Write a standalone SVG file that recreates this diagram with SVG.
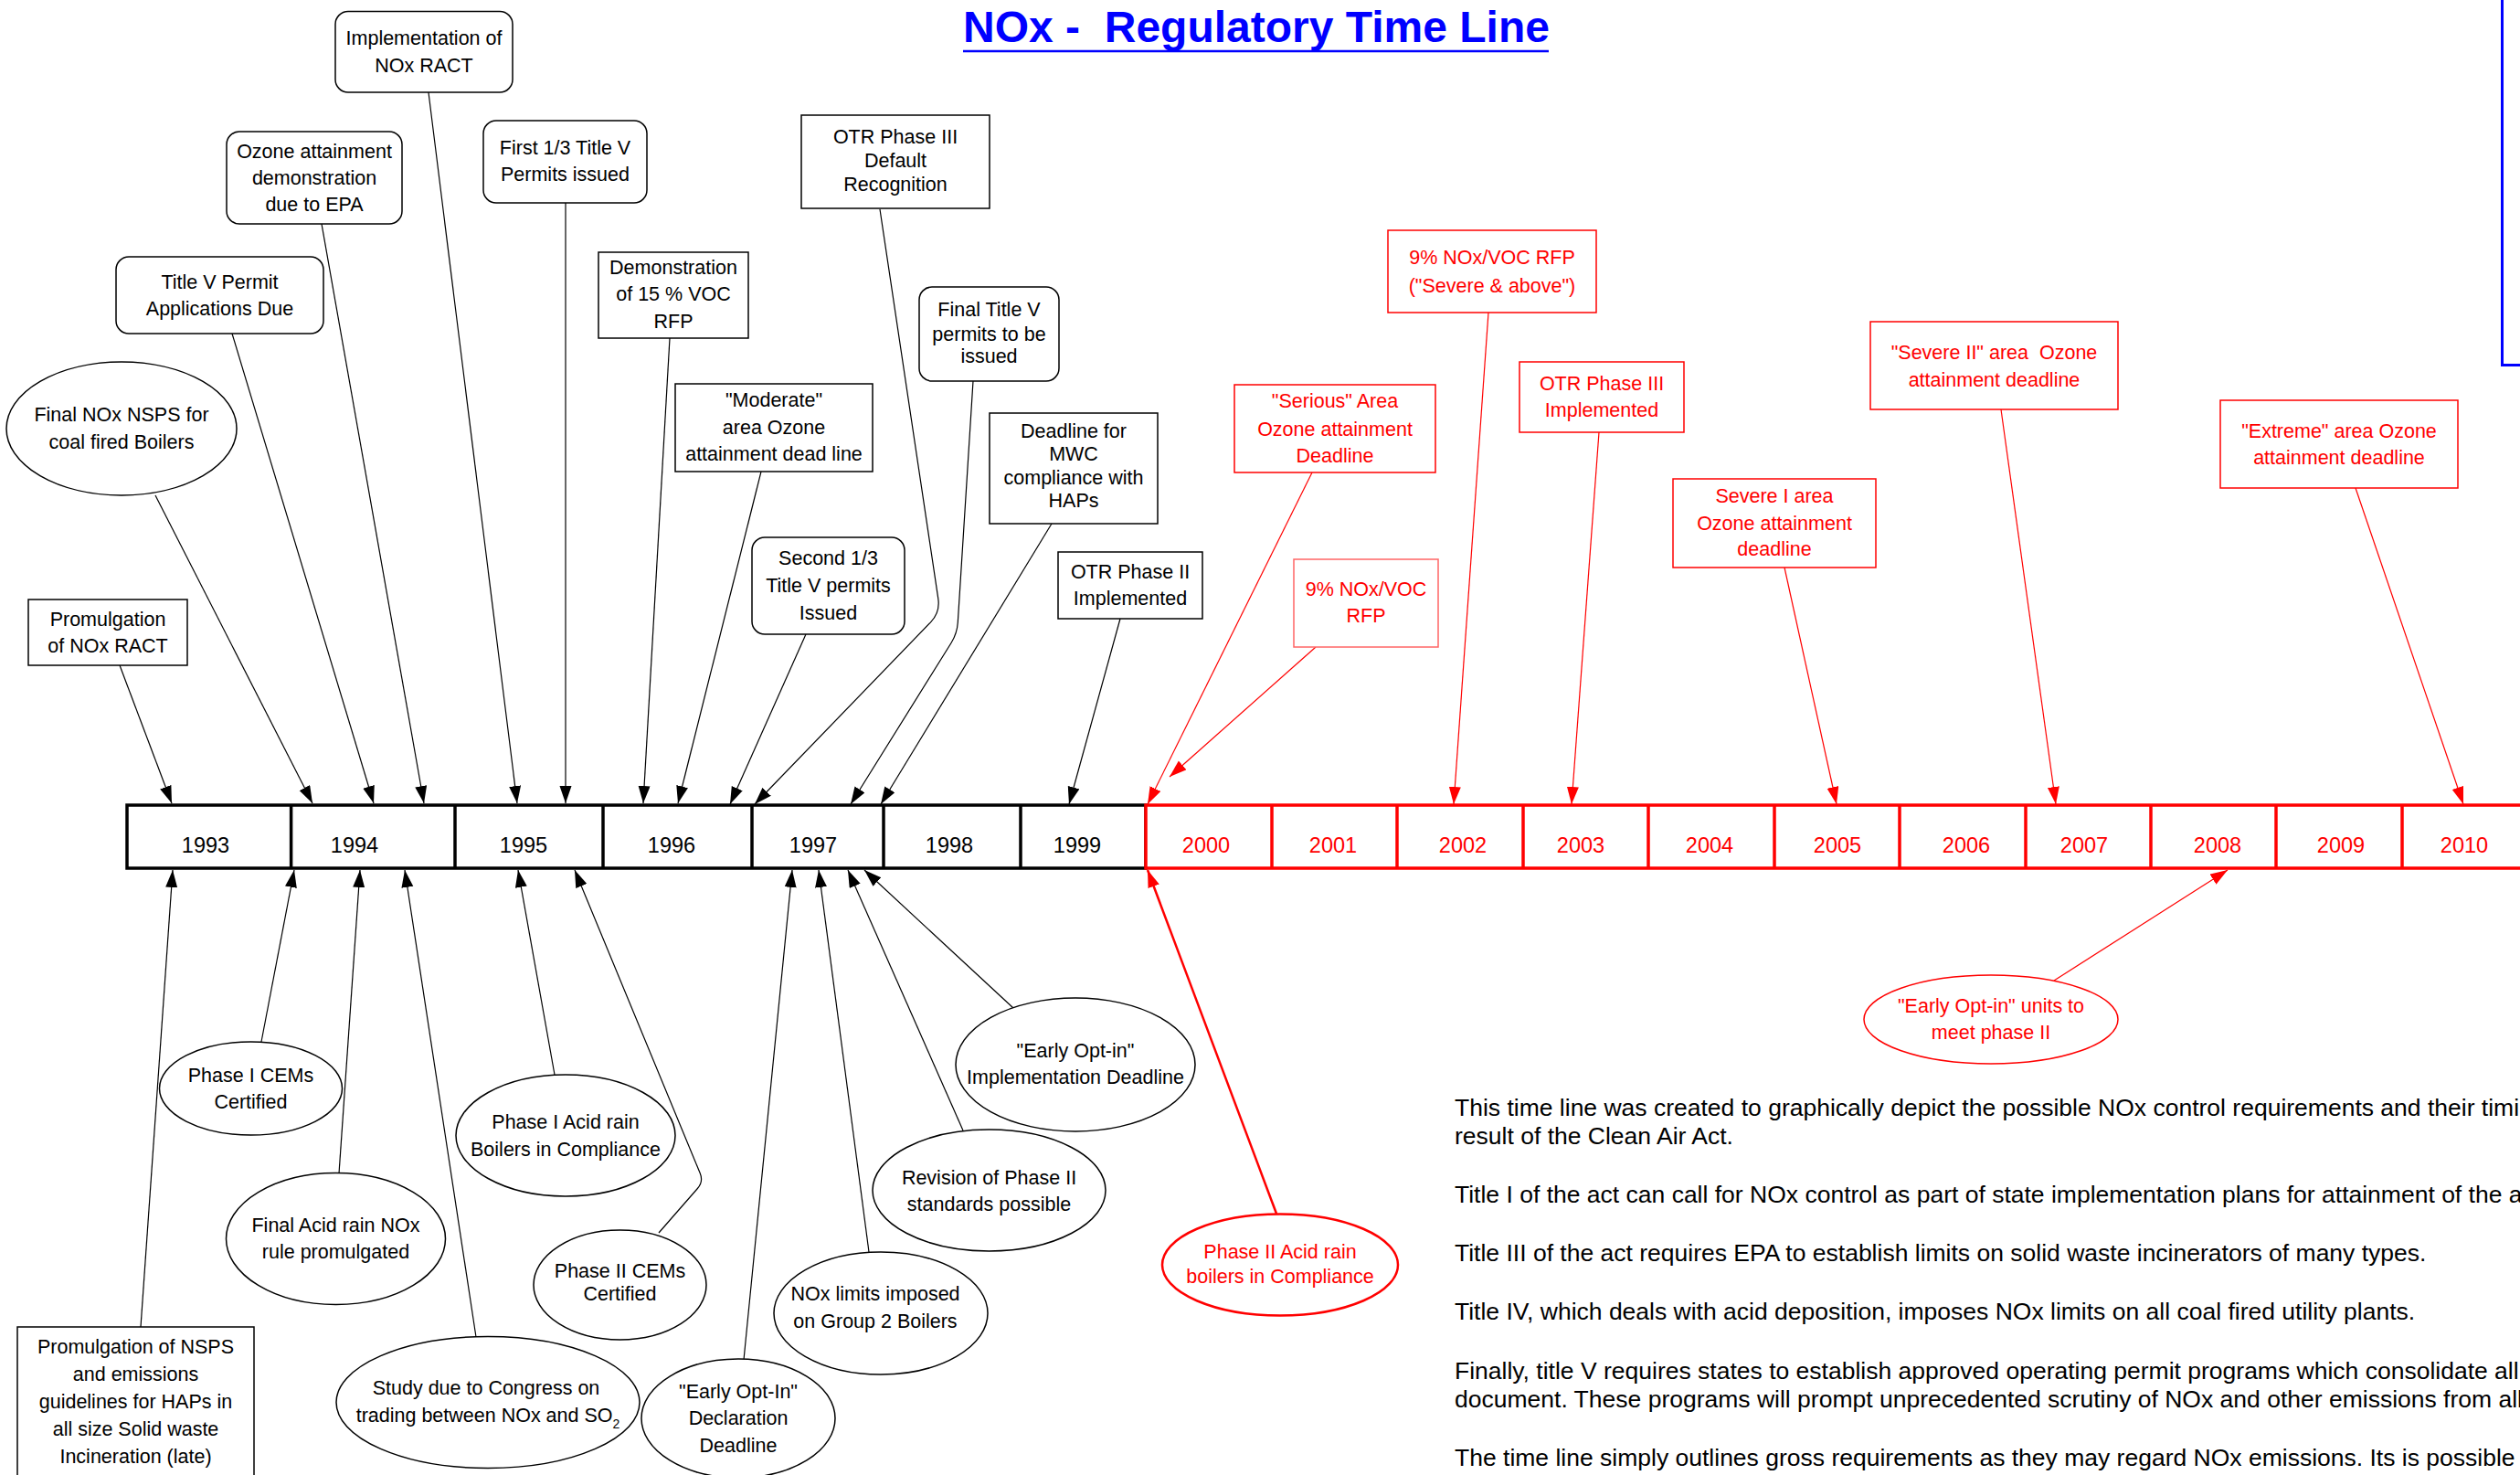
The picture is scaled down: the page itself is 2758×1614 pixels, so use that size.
<svg xmlns="http://www.w3.org/2000/svg" width="2758" height="1614" viewBox="0 0 2758 1614">
<style>
.t{font-family:"Liberation Sans",Arial,sans-serif;font-size:21.5px;fill:#000;text-anchor:middle}
.rt{font-family:"Liberation Sans",Arial,sans-serif;font-size:21.5px;fill:#ff0000;text-anchor:middle}
.yr{font-family:"Liberation Sans",Arial,sans-serif;font-size:23.5px;text-anchor:middle}
.box{fill:#fff;stroke:#000;stroke-width:1.5}
.rbox{fill:#fff;stroke:#ff0000;stroke-width:1.5}
.conn{fill:none;stroke:#000;stroke-width:1.2;marker-end:url(#ab)}
.rconn{fill:none;stroke:#ff0000;stroke-width:1.2;marker-end:url(#ar)}
.para{font-family:"Liberation Sans",Arial,sans-serif;font-size:26.5px;fill:#000}
</style>
<defs>
<marker id="ab" markerUnits="userSpaceOnUse" markerWidth="20" markerHeight="14" refX="19" refY="6.5" orient="auto"><path d="M0,0 L19,6.5 L0,13 z" fill="#000"/></marker>
<marker id="ar" markerUnits="userSpaceOnUse" markerWidth="20" markerHeight="14" refX="19" refY="6.5" orient="auto"><path d="M0,0 L19,6.5 L0,13 z" fill="#ff0000"/></marker>
</defs>
<rect width="2758" height="1614" fill="#fff"/>

<g id="title">
<text x="1375" y="46" style="font-family:'Liberation Sans',Arial,sans-serif;font-size:48px;font-weight:bold;fill:#0000ff;text-anchor:middle;white-space:pre">NOx -  Regulatory Time Line</text>
<line x1="1054" y1="56" x2="1695" y2="56" stroke="#0000ff" stroke-width="2.5"/>
</g>

<g id="blue-box"><rect x="2738.5" y="-5" width="100" height="404.5" fill="none" stroke="#0000ff" stroke-width="3"/></g>

<g id="connectors">
<line class="conn" x1="469" y1="101" x2="566" y2="879"/>
<line class="conn" x1="352" y1="245" x2="464" y2="879"/>
<line class="conn" x1="254" y1="365" x2="409" y2="879"/>
<line class="conn" x1="170" y1="542" x2="342" y2="879"/>
<line class="conn" x1="619" y1="222" x2="619" y2="879"/>
<line class="conn" x1="733" y1="370" x2="704" y2="879"/>
<path class="conn" d="M963,229 L1026.8,655.2 Q1029,670 1018.6,680.8 L826,880"/>
<path class="conn" d="M1065,417 L1048.3,681 Q1047.5,693 1041.2,703.2 L931,880"/>
<line class="conn" x1="1151" y1="573" x2="964" y2="880"/>
<line class="conn" x1="833" y1="516" x2="742" y2="879"/>
<line class="conn" x1="882" y1="694" x2="799" y2="880"/>
<line class="conn" x1="1226" y1="677" x2="1170" y2="880"/>
<line class="conn" x1="131" y1="728" x2="188" y2="879"/>
<line class="rconn" x1="1436" y1="517" x2="1256" y2="880"/>
<line class="rconn" x1="1440" y1="708" x2="1280" y2="850"/>
<line class="rconn" x1="1629" y1="342" x2="1591" y2="880"/>
<line class="rconn" x1="1750" y1="473" x2="1720" y2="880"/>
<line class="rconn" x1="1953" y1="621" x2="2010" y2="880"/>
<line class="rconn" x1="2190" y1="448" x2="2250" y2="880"/>
<line class="rconn" x1="2578" y1="534" x2="2696" y2="880"/>
<line class="conn" x1="154" y1="1452" x2="189" y2="952"/>
<line class="conn" x1="286" y1="1140" x2="322" y2="952"/>
<line class="conn" x1="371" y1="1284" x2="394" y2="952"/>
<line class="conn" x1="521" y1="1463" x2="443" y2="952"/>
<line class="conn" x1="607" y1="1176" x2="567" y2="952"/>
<path class="conn" d="M721,1349 L763.4,1300.5 Q770,1293 766.2,1283.8 L629,952"/>
<line class="conn" x1="814" y1="1488" x2="867" y2="952"/>
<line class="conn" x1="951" y1="1370" x2="896" y2="952"/>
<line class="conn" x1="1054" y1="1237" x2="928" y2="952"/>
<line class="conn" x1="1109" y1="1103" x2="946" y2="952"/>
<line x1="1397" y1="1328" x2="1256" y2="952" fill="none" stroke="#ff0000" stroke-width="2.5" marker-end="url(#ar)"/>
<line class="rconn" x1="2248" y1="1073" x2="2438" y2="952"/>
</g>

<g id="timeline">
<rect x="139" y="881" width="1115" height="69" fill="#fff" stroke="#000" stroke-width="3.5"/>
<g stroke="#000" stroke-width="3.5">
<line x1="318.6" y1="881" x2="318.6" y2="950"/><line x1="498" y1="881" x2="498" y2="950"/><line x1="660" y1="881" x2="660" y2="950"/><line x1="823" y1="881" x2="823" y2="950"/><line x1="967" y1="881" x2="967" y2="950"/><line x1="1117" y1="881" x2="1117" y2="950"/>
</g>
<rect x="1254" y="881" width="1600" height="69" fill="#fff" stroke="#ff0000" stroke-width="3.5"/>
<g stroke="#ff0000" stroke-width="3.5">
<line x1="1392" y1="881" x2="1392" y2="950"/><line x1="1529" y1="881" x2="1529" y2="950"/><line x1="1667" y1="881" x2="1667" y2="950"/><line x1="1804" y1="881" x2="1804" y2="950"/><line x1="1942" y1="881" x2="1942" y2="950"/><line x1="2079" y1="881" x2="2079" y2="950"/><line x1="2217" y1="881" x2="2217" y2="950"/><line x1="2354" y1="881" x2="2354" y2="950"/><line x1="2491" y1="881" x2="2491" y2="950"/><line x1="2629" y1="881" x2="2629" y2="950"/>
</g>
<g class="yr" fill="#000">
<text x="225" y="933">1993</text><text x="388" y="933">1994</text><text x="573" y="933">1995</text><text x="735" y="933">1996</text><text x="890" y="933">1997</text><text x="1039" y="933">1998</text><text x="1179" y="933">1999</text>
</g>
<g class="yr" fill="#ff0000">
<text x="1320" y="933">2000</text><text x="1459" y="933">2001</text><text x="1601" y="933">2002</text><text x="1730" y="933">2003</text><text x="1871" y="933">2004</text><text x="2011" y="933">2005</text><text x="2152" y="933">2006</text><text x="2281" y="933">2007</text><text x="2427" y="933">2008</text><text x="2562" y="933">2009</text><text x="2697" y="933">2010</text>
</g>
</g>

<g id="n-impl-ract"><rect class="box" x="367" y="12.5" width="194" height="88.5" rx="14"/><text class="t" x="464" y="49">Implementation of</text><text class="t" x="464" y="79">NOx RACT</text></g>
<g id="n-ozone-demo"><rect class="box" x="248" y="144" width="192" height="101" rx="14"/><text class="t" x="344" y="172.5">Ozone attainment</text><text class="t" x="344" y="202">demonstration</text><text class="t" x="344" y="231">due to EPA</text></g>
<g id="n-titlev-apps"><rect class="box" x="127" y="281" width="227" height="84" rx="14"/><text class="t" x="240.5" y="316">Title V Permit</text><text class="t" x="240.5" y="345">Applications Due</text></g>
<g id="n-final-nsps"><ellipse class="box" cx="133" cy="469" rx="126" ry="73"/><text class="t" x="133" y="461">Final NOx NSPS for</text><text class="t" x="133" y="491">coal fired Boilers</text></g>
<g id="n-first-third"><rect class="box" x="529" y="132" width="179" height="90" rx="14"/><text class="t" x="618.5" y="169">First 1/3 Title V</text><text class="t" x="618.5" y="198">Permits issued</text></g>
<g id="n-demo-voc"><rect class="box" x="655" y="276" width="164" height="94"/><text class="t" x="737" y="300">Demonstration</text><text class="t" x="737" y="329">of 15 % VOC</text><text class="t" x="737" y="359">RFP</text></g>
<g id="n-otr3-default"><rect class="box" x="877" y="126" width="206" height="102"/><text class="t" x="980" y="157">OTR Phase III</text><text class="t" x="980" y="183">Default</text><text class="t" x="980" y="209">Recognition</text></g>
<g id="n-final-titlev"><rect class="box" x="1006" y="314" width="153" height="103" rx="14"/><text class="t" x="1082.5" y="346">Final Title V</text><text class="t" x="1082.5" y="372.5">permits to be</text><text class="t" x="1082.5" y="397">issued</text></g>
<g id="n-mwc"><rect class="box" x="1083" y="452" width="184" height="121"/><text class="t" x="1175" y="478.6">Deadline for</text><text class="t" x="1175" y="503.6">MWC</text><text class="t" x="1175" y="530">compliance with</text><text class="t" x="1175" y="555">HAPs</text></g>
<g id="n-moderate"><rect class="box" x="739" y="420" width="216" height="96"/><text class="t" x="847" y="445">"Moderate"</text><text class="t" x="847" y="475">area Ozone</text><text class="t" x="847" y="504">attainment dead line</text></g>
<g id="n-second-third"><rect class="box" x="823" y="588" width="167" height="106" rx="14"/><text class="t" x="906.5" y="618">Second 1/3</text><text class="t" x="906.5" y="648">Title V permits</text><text class="t" x="906.5" y="678">Issued</text></g>
<g id="n-otr2"><rect class="box" x="1158" y="604" width="158" height="73"/><text class="t" x="1237" y="633">OTR Phase II</text><text class="t" x="1237" y="662">Implemented</text></g>
<g id="n-prom-ract"><rect class="box" x="31" y="656" width="174" height="72"/><text class="t" x="118" y="685">Promulgation</text><text class="t" x="118" y="714">of NOx RACT</text></g>

<g id="n-serious"><rect class="rbox" x="1351" y="421" width="220" height="96"/><text class="rt" x="1461" y="446">"Serious" Area</text><text class="rt" x="1461" y="477">Ozone attainment</text><text class="rt" x="1461" y="506">Deadline</text></g>
<g id="n-9rfp"><rect class="rbox" x="1416" y="612" width="158" height="96" style="stroke:#ff6666"/><text class="rt" x="1495" y="652">9% NOx/VOC</text><text class="rt" x="1495" y="681">RFP</text></g>
<g id="n-9severe"><rect class="rbox" x="1519" y="252" width="228" height="90"/><text class="rt" x="1633" y="289">9% NOx/VOC RFP</text><text class="rt" x="1633" y="320">("Severe &amp; above")</text></g>
<g id="n-otr3-impl"><rect class="rbox" x="1663" y="396" width="180" height="77"/><text class="rt" x="1753" y="427">OTR Phase III</text><text class="rt" x="1753" y="456">Implemented</text></g>
<g id="n-severe1"><rect class="rbox" x="1831" y="524" width="222" height="97"/><text class="rt" x="1942" y="550">Severe I area</text><text class="rt" x="1942" y="580">Ozone attainment</text><text class="rt" x="1942" y="608">deadline</text></g>
<g id="n-severe2"><rect class="rbox" x="2047" y="352" width="271" height="96"/><text class="rt" x="2182.5" y="393" style="white-space:pre">"Severe II" area  Ozone</text><text class="rt" x="2182.5" y="422.5">attainment deadline</text></g>
<g id="n-extreme"><rect class="rbox" x="2430" y="438" width="260" height="96"/><text class="rt" x="2560" y="478.6">"Extreme" area Ozone</text><text class="rt" x="2560" y="508">attainment deadline</text></g>

<g id="n-nsps-haps"><rect class="box" x="19" y="1452" width="259" height="170"/><text class="t" x="148.5" y="1481">Promulgation of NSPS</text><text class="t" x="148.5" y="1510.7">and emissions</text><text class="t" x="148.5" y="1541">guidelines for HAPs in</text><text class="t" x="148.5" y="1571">all size Solid waste</text><text class="t" x="148.5" y="1601">Incineration (late)</text></g>
<g id="n-p1-cems"><ellipse class="box" cx="274.5" cy="1191" rx="100" ry="51"/><text class="t" x="274.5" y="1184">Phase I CEMs</text><text class="t" x="274.5" y="1213">Certified</text></g>
<g id="n-final-acid"><ellipse class="box" cx="367.5" cy="1355.5" rx="120" ry="72"/><text class="t" x="367.5" y="1347.6">Final Acid rain NOx</text><text class="t" x="367.5" y="1377">rule promulgated</text></g>
<g id="n-study"><ellipse class="box" cx="534" cy="1534.5" rx="166" ry="72"/><text class="t" x="532" y="1526">Study due to Congress on</text><text class="t" x="534" y="1556">trading between NOx and SO<tspan font-size="14" dy="7">2</tspan></text></g>
<g id="n-p1-acid"><ellipse class="box" cx="619" cy="1242.5" rx="120" ry="66.5"/><text class="t" x="619" y="1235">Phase I Acid rain</text><text class="t" x="619" y="1265">Boilers in Compliance</text></g>
<g id="n-p2-cems"><ellipse class="box" cx="678.5" cy="1406" rx="94.5" ry="60"/><text class="t" x="678.5" y="1398">Phase II CEMs</text><text class="t" x="678.5" y="1423">Certified</text></g>
<g id="n-optin-decl"><ellipse class="box" cx="808" cy="1552" rx="106" ry="65"/><text class="t" x="808" y="1530">"Early Opt-In"</text><text class="t" x="808" y="1559">Declaration</text><text class="t" x="808" y="1589">Deadline</text></g>
<g id="n-nox-group2"><ellipse class="box" cx="964" cy="1437" rx="117" ry="67"/><text class="t" x="958" y="1423">NOx limits imposed</text><text class="t" x="958" y="1453">on Group 2 Boilers</text></g>
<g id="n-revision"><ellipse class="box" cx="1082.5" cy="1302.5" rx="127.5" ry="66.5"/><text class="t" x="1082.5" y="1295.5">Revision of Phase II</text><text class="t" x="1082.5" y="1325">standards possible</text></g>
<g id="n-optin-impl"><ellipse class="box" cx="1177" cy="1165" rx="131" ry="73"/><text class="t" x="1177" y="1157">"Early Opt-in"</text><text class="t" x="1177" y="1186">Implementation Deadline</text></g>
<g id="n-p2-acid"><ellipse cx="1401" cy="1384" rx="129" ry="55.5" fill="#fff" stroke="#ff0000" stroke-width="2.5"/><text class="rt" x="1401" y="1377">Phase II Acid rain</text><text class="rt" x="1401" y="1404">boilers in Compliance</text></g>
<g id="n-optin-units"><ellipse class="rbox" cx="2179" cy="1115.5" rx="139" ry="48.5"/><text class="rt" x="2179" y="1108">"Early Opt-in" units to</text><text class="rt" x="2179" y="1137">meet phase II</text></g>

<g id="notes" class="para">
<text x="1592" y="1221">This time line was created to graphically depict the possible NOx control requirements and their timing</text>
<text x="1592" y="1252">result of the Clean Air Act.</text>
<text x="1592" y="1316">Title I of the act can call for NOx control as part of state implementation plans for attainment of the ambient</text>
<text x="1592" y="1380">Title III of the act requires EPA to establish limits on solid waste incinerators of many types.</text>
<text x="1592" y="1444">Title IV, which deals with acid deposition, imposes NOx limits on all coal fired utility plants.</text>
<text x="1592" y="1508.5">Finally, title V requires states to establish approved operating permit programs which consolidate all</text>
<text x="1592" y="1540">document. These programs will prompt unprecedented scrutiny of NOx and other emissions from all</text>
<text x="1592" y="1604">The time line simply outlines gross requirements as they may regard NOx emissions. Its is possible</text>
</g>
</svg>
